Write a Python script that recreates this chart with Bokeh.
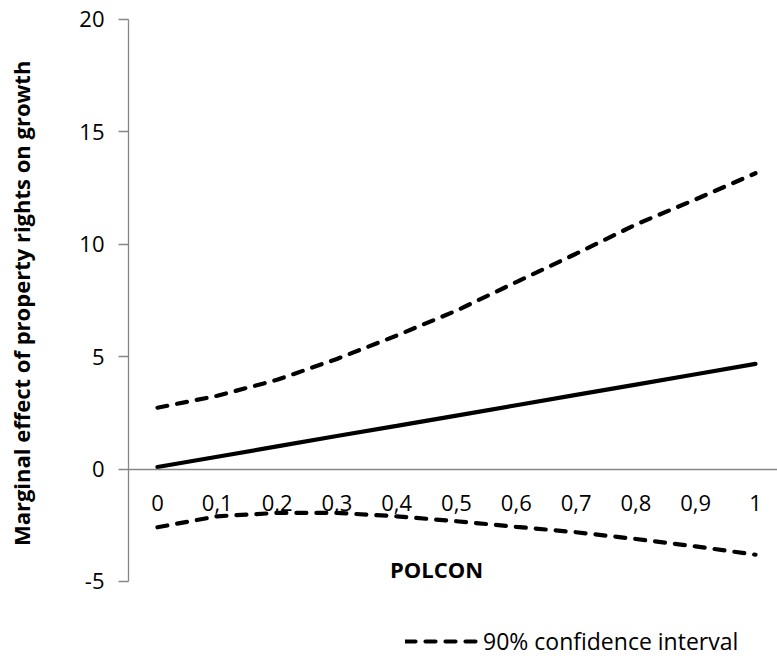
import math
from bokeh.plotting import figure
from bokeh.models import Range1d, Label, Legend, LegendItem, FixedTicker, LinearAxis
from bokeh.embed import file_html
from bokeh.resources import INLINE

# ---- data ----
polcon = [0.0, 0.1, 0.2, 0.3, 0.4, 0.5, 0.6, 0.7, 0.8, 0.9, 1.0]
x_tick_labels = ["0", "0,1", "0,2", "0,3", "0,4", "0,5", "0,6", "0,7", "0,8", "0,9", "1"]
marginal_effect = [0.09, 0.55, 1.01, 1.47, 1.92, 2.38, 2.84, 3.30, 3.76, 4.22, 4.68]
ci_upper = [2.73, 3.26, 3.97, 4.90, 5.94, 7.05, 8.32, 9.58, 10.88, 12.00, 13.16]
ci_lower = [-2.59, -2.10, -1.95, -1.95, -2.10, -2.32, -2.57, -2.81, -3.11, -3.44, -3.81]
y_ticks = [-5, 0, 5, 10, 15, 20]
y_tick_labels = ["-5", "0", "5", "10", "15", "20"]

FONT = "Open Sans"
GREY = "#868686"

# plot-area extents (layout only)
X_LEFT, X_RIGHT = -0.2625, 1.0368
Y_BOTTOM, Y_TOP = -8.56, 20.845
X_AXIS_BOUNDS = (-0.0485, 1.0368)
Y_AXIS_BOUNDS = (-5, 20)

p = figure(width=777, height=661, output_backend="svg", toolbar_location=None,
           x_range=Range1d(X_LEFT, X_RIGHT), y_range=Range1d(Y_BOTTOM, Y_TOP),
           x_axis_location=None, y_axis_location=None, min_border=0)
p.outline_line_color = None
p.grid.visible = False
p.background_fill_color = "white"
p.border_fill_color = "white"

# y axis (Excel style, crossing at the left edge of the category area)
ya = LinearAxis(fixed_location=X_AXIS_BOUNDS[0], bounds=Y_AXIS_BOUNDS,
                ticker=FixedTicker(ticks=y_ticks),
                major_label_overrides={t: s for t, s in zip(y_ticks, y_tick_labels)})
ya.axis_line_color = GREY
ya.axis_line_width = 1.3
ya.major_tick_line_color = GREY
ya.major_tick_line_width = 1.3
ya.major_tick_out = 10
ya.major_tick_in = 0
ya.minor_tick_line_color = None
ya.major_label_text_font = FONT
ya.major_label_text_font_size = "22px"
ya.major_label_text_color = "#000000"
ya.major_label_standoff = 14
p.add_layout(ya, "left")

# x axis at y = 0
xa = LinearAxis(fixed_location=0, bounds=X_AXIS_BOUNDS,
                ticker=FixedTicker(ticks=polcon),
                major_label_overrides={t: s for t, s in zip(polcon, x_tick_labels)})
xa.axis_line_color = GREY
xa.axis_line_width = 1.3
xa.major_tick_line_color = None
xa.major_tick_out = 0
xa.major_tick_in = 0
xa.minor_tick_line_color = None
xa.major_label_text_font = FONT
xa.major_label_text_font_size = "22px"
xa.major_label_text_color = "#000000"
xa.major_label_standoff = 26
p.add_layout(xa, "below")

# series
p.line(polcon, marginal_effect, line_color="black", line_width=4.2, line_cap="round")
r_up = p.line(polcon, ci_upper, line_color="black", line_width=4.2, line_dash="10 10", line_cap="round")
p.line(polcon, ci_lower, line_color="black", line_width=4.2, line_dash="10 10", line_cap="round")

# titles
p.add_layout(Label(x=436, y=93, x_units="screen", y_units="screen", text="POLCON",
                   text_align="center", text_baseline="middle",
                   text_font=FONT, text_font_style="bold", text_font_size="22px", text_color="#000000"))
p.add_layout(Label(x=20, y=361, x_units="screen", y_units="screen", angle=math.pi / 2,
                   text="Marginal effect of property rights  on growth",
                   text_align="center", text_baseline="middle",
                   text_font=FONT, text_font_style="bold", text_font_size="22px", text_color="#000000"))

legend = Legend(items=[LegendItem(label="90% confidence interval", renderers=[r_up])],
                location=(405, 4), border_line_color=None, background_fill_alpha=0,
                padding=0, margin=0, glyph_width=73, glyph_height=20, label_standoff=5,
                label_text_font=FONT, label_text_font_size="23px", label_text_color="#000000")
p.add_layout(legend)

open("out.html", "w").write(file_html(p, INLINE))
